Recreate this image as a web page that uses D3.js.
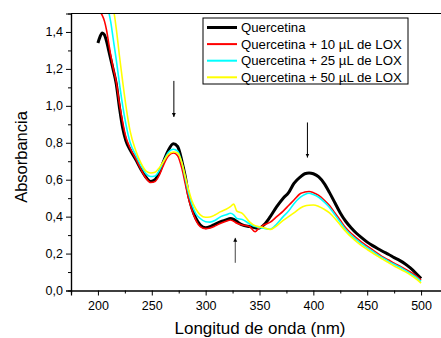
<!DOCTYPE html>
<head>
    <script src="https://d3js.org/d3.v7.min.js"></script>
    <style>
        body { margin: 0; background: white; }
        text { font-family: Arial, "Liberation Sans", sans-serif; fill: #000; }
    </style>
</head>
<body>
<svg width="441" height="338" class="chart" style="background-color: white"></svg>
<script>
    // wavelength grid (nm)
    const wavelength = [200, 202, 204, 206, 208, 210, 212, 214, 217, 220, 223, 226, 230, 235, 240, 245, 249, 253, 257, 261,
        265, 270, 274, 278, 281, 284, 287, 291, 295, 300, 304, 309, 314, 319, 323, 326, 329, 334, 341, 346,
        349, 354, 360, 366, 372, 377, 382, 388, 392, 396, 400, 405, 410, 415, 420, 425, 430, 435, 440, 445,
        450, 455, 460, 465, 470, 475, 480, 485, 490, 495, 500];

    const quercetina = [1.34, 1.375, 1.395, 1.385, 1.35, 1.30, 1.25, 1.20, 1.12, 0.99, 0.88, 0.81, 0.76, 0.71, 0.655, 0.61, 0.59, 0.60, 0.64, 0.70,
        0.755, 0.795, 0.78, 0.70, 0.62, 0.52, 0.45, 0.39, 0.355, 0.34, 0.345, 0.36, 0.373, 0.382, 0.39, 0.385, 0.373, 0.355, 0.346, 0.34,
        0.337, 0.355, 0.40, 0.454, 0.50, 0.53, 0.58, 0.615, 0.632, 0.636, 0.632, 0.615, 0.58, 0.53, 0.475, 0.42, 0.375, 0.34, 0.31, 0.285,
        0.262, 0.243, 0.226, 0.21, 0.195, 0.178, 0.163, 0.145, 0.122, 0.095, 0.065];

    const lox10 = [1.505, 1.505, 1.49, 1.46, 1.41, 1.34, 1.27, 1.21, 1.13, 1.01, 0.91, 0.83, 0.77, 0.715, 0.655, 0.605, 0.585, 0.59, 0.625, 0.68,
        0.725, 0.745, 0.73, 0.66, 0.58, 0.50, 0.44, 0.38, 0.346, 0.335, 0.338, 0.35, 0.364, 0.375, 0.382, 0.375, 0.364, 0.355, 0.345, 0.318,
        0.335, 0.355, 0.37, 0.40, 0.43, 0.46, 0.49, 0.525, 0.533, 0.536, 0.53, 0.515, 0.49, 0.46, 0.42, 0.38, 0.34, 0.31, 0.285, 0.26,
        0.24, 0.22, 0.20, 0.18, 0.165, 0.148, 0.133, 0.117, 0.10, 0.08, 0.058];

    const lox25 = [1.75, 1.70, 1.65, 1.60, 1.56, 1.51, 1.45, 1.37, 1.25, 1.12, 1.0, 0.90, 0.80, 0.735, 0.675, 0.63, 0.617, 0.62, 0.65, 0.70,
        0.745, 0.765, 0.755, 0.69, 0.61, 0.53, 0.47, 0.415, 0.39, 0.372, 0.37, 0.38, 0.40, 0.41, 0.418, 0.41, 0.39, 0.385, 0.36, 0.346,
        0.342, 0.337, 0.332, 0.36, 0.40, 0.43, 0.47, 0.505, 0.52, 0.527, 0.52, 0.505, 0.48, 0.45, 0.41, 0.37, 0.33, 0.30, 0.275, 0.252,
        0.232, 0.213, 0.193, 0.175, 0.158, 0.142, 0.127, 0.11, 0.093, 0.073, 0.05];

    const lox50 = [1.90, 1.85, 1.80, 1.75, 1.70, 1.65, 1.60, 1.54, 1.42, 1.27, 1.13, 1.0, 0.86, 0.76, 0.69, 0.645, 0.636, 0.64, 0.665, 0.70,
        0.735, 0.75, 0.745, 0.69, 0.62, 0.55, 0.49, 0.44, 0.41, 0.397, 0.398, 0.41, 0.427, 0.44, 0.454, 0.468, 0.43, 0.418, 0.37, 0.35,
        0.346, 0.34, 0.33, 0.35, 0.38, 0.40, 0.42, 0.447, 0.458, 0.462, 0.463, 0.455, 0.44, 0.42, 0.39, 0.355, 0.32, 0.29, 0.265, 0.242,
        0.222, 0.203, 0.185, 0.167, 0.15, 0.133, 0.118, 0.102, 0.085, 0.065, 0.04];

    const seriesNames = ["Quercetina", "Quercetina + 10 \u00b5L de LOX", "Quercetina + 25 \u00b5L de LOX", "Quercetina + 50 \u00b5L de LOX"];
    const seriesValues = [quercetina, lox10, lox25, lox50];
    const seriesColors = ["#000000", "#ff0000", "#00ffff", "#ffff00"];
    const seriesWidths = [3, 1.6, 1.6, 1.6];

    const xTicks = [200, 250, 300, 350, 400, 450, 500];
    const yTicks = [0, 0.2, 0.4, 0.6, 0.8, 1.0, 1.2, 1.4];

    // arrows: [wavelength, from, to]
    const arrows = [[270.5, 1.135, 0.94], [394.5, 0.91, 0.72], [327.5, 0.15, 0.285]];

    const margin = {top: 13.5, left: 71},
        width = 377,
        height = 277;

    const svg = d3.select(".chart");
    const g = svg.append("g").attr("transform", "translate(" + margin.left + "," + margin.top + ")");

    const x = d3.scaleLinear().domain([175, 525]).range([0, width]);
    const y = d3.scaleLinear().domain([0, 1.5]).range([height, 0]);

    g.append("clipPath").attr("id", "plotclip")
        .append("rect").attr("x", 0).attr("y", 0).attr("width", width).attr("height", height);

    const line = d3.line()
        .x(function(d){ return x(d[0]) })
        .y(function(d){ return y(d[1]) })
        .curve(d3.curveMonotoneX);

    const lines = g.append("g").attr("clip-path", "url(#plotclip)");
    seriesValues.forEach(function(vals, i){
        lines.append("path")
            .datum(wavelength.map(function(w, j){ return [w, vals[j]] }))
            .attr("d", line)
            .attr("fill", "none")
            .attr("stroke", seriesColors[i])
            .attr("stroke-width", seriesWidths[i])
            .attr("stroke-linejoin", "round");
    });

    // axes
    const fmt = function(d){ return d3.format(".1f")(d).replace(".", ",") };
    g.append("g")
        .call(d3.axisLeft(y).tickValues(yTicks).tickFormat(fmt).tickSize(5).tickPadding(3));
    g.append("g")
        .call(d3.axisLeft(y).tickValues(d3.range(0.1, 1.5, 0.2)).tickFormat("").tickSize(3));
    g.append("g").attr("transform", "translate(0," + height + ")")
        .call(d3.axisBottom(x).tickValues(xTicks).tickSize(5).tickPadding(6));
    g.append("g").attr("transform", "translate(0," + height + ")")
        .call(d3.axisBottom(x).tickValues([225, 275, 325, 375, 425, 475]).tickFormat("").tickSize(3));
    g.selectAll(".domain").attr("stroke", "#000").attr("stroke-width", 1.2);
    g.selectAll(".tick line").attr("stroke", "#000").attr("stroke-width", 1);
    g.selectAll(".tick text").style("font-size", "12.5px").attr("fill", "#000")
        .style("font-family", "Arial, 'Liberation Sans', sans-serif");

    // top border
    g.append("line").attr("x1", 0).attr("x2", width).attr("y1", 0).attr("y2", 0)
        .attr("stroke", "#000").attr("stroke-width", 1);

    // arrows
    svg.append("defs").append("marker")
        .attr("id", "head").attr("viewBox", "0 0 10 10")
        .attr("refX", 10).attr("refY", 5)
        .attr("markerWidth", 4).attr("markerHeight", 8)
        .attr("markerUnits", "userSpaceOnUse")
        .attr("orient", "auto")
        .append("path").attr("d", "M0,0 L10,5 L0,10 z").attr("fill", "#000");

    arrows.forEach(function(a, i){
        g.append("line")
            .attr("x1", x(a[0])).attr("x2", x(a[0]))
            .attr("y1", y(a[1])).attr("y2", y(a[2]))
            .attr("stroke", i == 2 ? "#444" : "#000").attr("stroke-width", 1)
            .attr("marker-end", "url(#head)");
    });

    // legend
    const legend = svg.append("g").attr("transform", "translate(203,18)");
    legend.append("rect").attr("width", 205).attr("height", 66)
        .attr("fill", "white").attr("stroke", "#000").attr("stroke-width", 1);
    seriesNames.forEach(function(name, i){
        const yy = 9.5 + i * 16.6;
        legend.append("line").attr("x1", 4).attr("x2", 34).attr("y1", yy).attr("y2", yy)
            .attr("stroke", seriesColors[i]).attr("stroke-width", i == 0 ? 3 : 2);
        legend.append("text").attr("x", 38).attr("y", yy + 4.6)
            .style("font-size", "13.2px").text(name);
    });

    // axis titles
    svg.append("text")
        .attr("transform", "translate(27,157) rotate(-90)")
        .attr("text-anchor", "middle")
        .style("font-size", "16.5px")
        .text("Absorbancia");
    svg.append("text")
        .attr("x", 260).attr("y", 334)
        .attr("text-anchor", "middle")
        .style("font-size", "17px")
        .text("Longitud de onda (nm)");
</script>
</body>
